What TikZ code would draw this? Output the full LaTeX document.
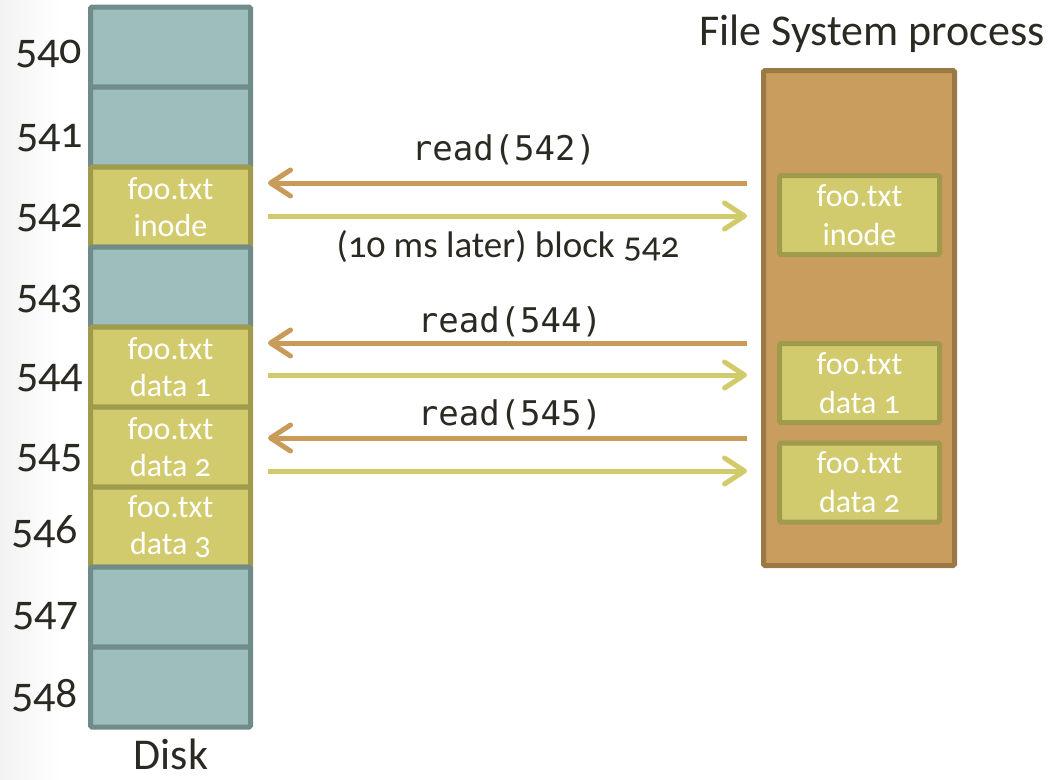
\documentclass[tikz,border=0pt]{standalone}
\usepackage{fontspec}
\setmainfont{Carlito}[Numbers=OldStyle]
\newfontfamily\codefont{DejaVu Sans Mono}
\usetikzlibrary{arrows.meta}

\definecolor{ink}{HTML}{2B2A22}
\definecolor{tealfill}{HTML}{9DBEBC}
\definecolor{tealline}{HTML}{6F8B8A}
\definecolor{olivefill}{HTML}{D2CB6E}
\definecolor{oliveline}{HTML}{A09A4D}
\definecolor{fsfill}{HTML}{C89D5E}
\definecolor{fsline}{HTML}{9B7945}
\definecolor{reqcol}{HTML}{C99B5B}
\definecolor{repcol}{HTML}{D2CB6C}

\tikzset{
  blk/.style={draw=tealline, fill=tealfill, line width=5pt, rounded corners=1.5pt,
    minimum width=160pt, minimum height=80pt, inner sep=0pt, text=white,
    align=center, font=\fontsize{32}{37}\selectfont},
  fileblk/.style={blk, draw=oliveline, fill=olivefill},
  fsbox/.style={draw=fsline, fill=fsfill, line width=5pt, rounded corners=1.5pt,
    minimum width=191pt, minimum height=495pt, inner sep=0pt},
  cached/.style={fileblk, minimum height=79pt, font=\fontsize{32}{39}\selectfont},
  numlbl/.style={anchor=base west, inner sep=0pt, text=ink, font=\fontsize{44}{50}\selectfont},
  caption/.style={anchor=base, inner sep=0pt, text=ink, font=\fontsize{44}{50}\selectfont},
  msglbl/.style={anchor=base, inner sep=0pt, text=ink, font=\fontsize{37}{44}\selectfont},
  calllbl/.style={anchor=base, inner sep=0pt, text=ink, font=\codefont\fontsize{34}{40}\selectfont},
  req/.style={draw=reqcol, line width=5pt,
    -{Straight Barb[length=20pt, width=26pt, round]},
    shorten <=14pt, shorten >=15pt},
  rep/.style={draw=repcol, line width=5pt,
    -{Straight Barb[length=20pt, width=26pt, round]},
    shorten <=15pt, shorten >=14pt},
}

\begin{document}
\begin{tikzpicture}[x=1pt, y=-1pt]
  \useasboundingbox (0,0) rectangle (1051,779);
  % soft grey band along the left edge of the slide
  \shade[left color=black!5, right color=white] (0,0) rectangle (60,779);

  % disk blocks, top to bottom
  \node[blk]     (c540) at (170.5, 47) {};
  \node[blk]     (c541) at (170.5,127) {};
  \node[fileblk] (c542) at (170.5,207) {foo.txt\\inode};
  \node[blk]     (c543) at (170.5,287) {};
  \node[fileblk] (c544) at (170.5,367) {foo.txt\\data 1};
  \node[fileblk] (c545) at (170.5,447) {foo.txt\\data 2};
  \node[fileblk] (c546) at (170.5,527) {foo.txt\\data 3};
  \node[blk]     (c547) at (170.5,607) {};
  \node[blk]     (c548) at (170.5,687) {};

  % block numbers
  \node[numlbl] (n540) at (15, 63) {540};
  \node[numlbl] (n541) at (16,147) {541};
  \node[numlbl] (n542) at (16,227) {542};
  \node[numlbl] (n543) at (16,308) {543};
  \node[numlbl] (n544) at (16,387) {544};
  \node[numlbl] (n545) at (16,467) {545};
  \node[numlbl] (n546) at (11,543) {546};
  \node[numlbl] (n547) at (12,625) {547};
  \node[numlbl] (n548) at (11,707) {548};

  \node[caption] (disk) at (171,769) {Disk};

  % file system process with its cached blocks
  \node[caption] (fstitle) at (872,45) {File System process};
  \node[fsbox] (fs) at (859,318) {};
  \node[cached] (fsinode) at (859.5,215)   {foo.txt\\inode};
  \node[cached] (fsdata1) at (859.5,383)   {foo.txt\\data 1};
  \node[cached] (fsdata2) at (859.5,482.5) {foo.txt\\data 2};

  % requests and replies
  \draw[req] (fs.west |- 0,183) -- (c542.east |- 0,183);
  \draw[rep] (c542.east |- 0,216) -- (fs.west |- 0,216);
  \draw[req] (fs.west |- 0,343) -- (c544.east |- 0,343);
  \draw[rep] (c544.east |- 0,375) -- (fs.west |- 0,375);
  \draw[req] (fs.west |- 0,438) -- (c545.east |- 0,438);
  \draw[rep] (c545.east |- 0,471) -- (fs.west |- 0,471);

  \node[calllbl] (m542) at (504,160) {read(542)};
  \node[msglbl]  (r542) at (508,257) {(10 ms later) block 542};
  \node[calllbl] (m544) at (510,332) {read(544)};
  \node[calllbl] (m545) at (510,425) {read(545)};
\end{tikzpicture}
\end{document}
